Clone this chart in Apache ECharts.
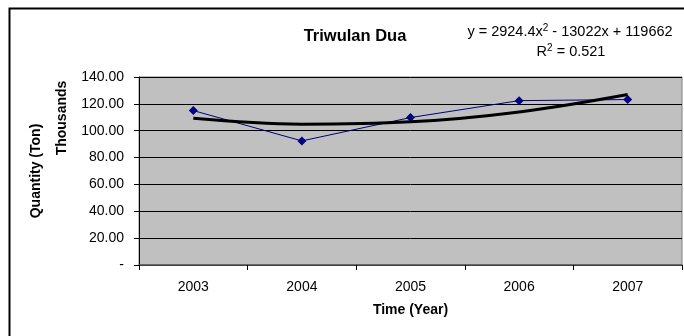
<!DOCTYPE html>
<html>
<head>
<meta charset="utf-8">
<script src="https://cdn.jsdelivr.net/npm/echarts@6/dist/echarts.min.js"></script>
<style>
  html, body { margin: 0; padding: 0; background: #fff; }
  #chart { width: 684px; height: 336px; }
</style>
</head>
<body>
<div id="chart"></div>
<script>
// data (thousands of tons)
var years = ['2003', '2004', '2005', '2006', '2007'];
var quantity = [115.0, 92.4, 109.8, 122.4, 123.2];
var trendValues = [109.2, 104.9, 106.6, 114.0, 127.0];
var yTicks = [0, 20, 40, 60, 80, 100, 120, 140];

var chart = echarts.init(document.getElementById('chart'));

var option = {
    backgroundColor: '#fff',
    animation: false,
    textStyle: { fontFamily: 'Liberation Sans' },
    title: {
        text: 'Triwulan Dua',
        left: 350,
        top: 23,
        textAlign: 'center',
        textStyle: { fontFamily: 'Liberation Sans', fontSize: 16.5, fontWeight: 'bold', color: '#000' }
    },
    grid: {
        left: 139,
        right: 2,
        top: 77,
        bottom: 71,
        show: true,
        backgroundColor: '#c0c0c0',
        borderColor: '#808080',
        borderWidth: 1
    },
    xAxis: {
        type: 'category',
        data: years,
        boundaryGap: true,
        name: 'Time (Year)',
        nameLocation: 'middle',
        nameGap: 38,
        nameTextStyle: { fontFamily: 'Liberation Sans', fontSize: 14, fontWeight: 'bold', color: '#000' },
        axisLine: { lineStyle: { color: '#555', width: 1.5 } },
        axisTick: { show: true, interval: 0, length: 5, lineStyle: { color: '#000' } },
        axisLabel: { fontSize: 14, color: '#000', margin: 15, interval: 0 },
        splitLine: { show: false }
    },
    yAxis: {
        type: 'value',
        min: yTicks[0],
        max: yTicks[yTicks.length - 1],
        interval: 20,
        name: 'Quantity (Ton)',
        nameLocation: 'middle',
        nameRotate: 90,
        nameGap: 96,
        nameTextStyle: { fontFamily: 'Liberation Sans', fontSize: 14, fontWeight: 'bold', color: '#000' },
        axisLine: { show: true, lineStyle: { color: '#000', width: 1 } },
        axisTick: { show: true, length: 5, lineStyle: { color: '#000' } },
        axisLabel: {
            fontSize: 14,
            color: '#000',
            margin: 15,
            formatter: function (v) { return v === 0 ? '-' : v.toFixed(2); }
        },
        splitLine: { show: true, lineStyle: { color: '#000', width: 1 } }
    },
    graphic: [
        {
            type: 'rect',
            shape: { x: 9.5, y: 8.5, width: 720, height: 400 },
            style: { fill: null, stroke: '#000', lineWidth: 2 },
            z: 100
        },
        {
            type: 'text',
            x: 62,
            y: 118,
            rotation: Math.PI / 2,
            style: {
                text: 'Thousands',
                fontFamily: 'Liberation Sans',
                fontSize: 14,
                fontWeight: 'bold',
                fill: '#000',
                align: 'center',
                verticalAlign: 'middle'
            }
        },
        {
            type: 'text',
            x: 570,
            y: 32,
            style: {
                text: '{n|y = 2924.4x}{s|2}{n| - 13022x + 119662}',
                align: 'center',
                verticalAlign: 'middle',
                rich: {
                    n: { fontFamily: 'Liberation Sans', fontSize: 14.5, fill: '#000', lineHeight: 18 },
                    s: { fontFamily: 'Liberation Sans', fontSize: 10, fill: '#000', padding: [0, 0, 7, 0], lineHeight: 18 }
                }
            }
        },
        {
            type: 'text',
            x: 571,
            y: 52,
            style: {
                text: '{n|R}{s|2}{n| = 0.521}',
                align: 'center',
                verticalAlign: 'middle',
                rich: {
                    n: { fontFamily: 'Liberation Sans', fontSize: 14.5, fill: '#000', lineHeight: 18 },
                    s: { fontFamily: 'Liberation Sans', fontSize: 10, fill: '#000', padding: [0, 0, 7, 0], lineHeight: 18 }
                }
            }
        }
    ],
    series: [
        {
            name: 'Quantity',
            type: 'line',
            data: quantity,
            symbol: 'diamond',
            symbolSize: 9,
            lineStyle: { color: '#000080', width: 1 },
            itemStyle: { color: '#000080' },
            z: 3
        },
        {
            name: 'Poly. trend',
            type: 'line',
            data: trendValues,
            smooth: 0.4,
            symbol: 'none',
            lineStyle: { color: '#000', width: 3 },
            z: 4
        }
    ]
};

chart.setOption(option);
</script>
</body>
</html>
